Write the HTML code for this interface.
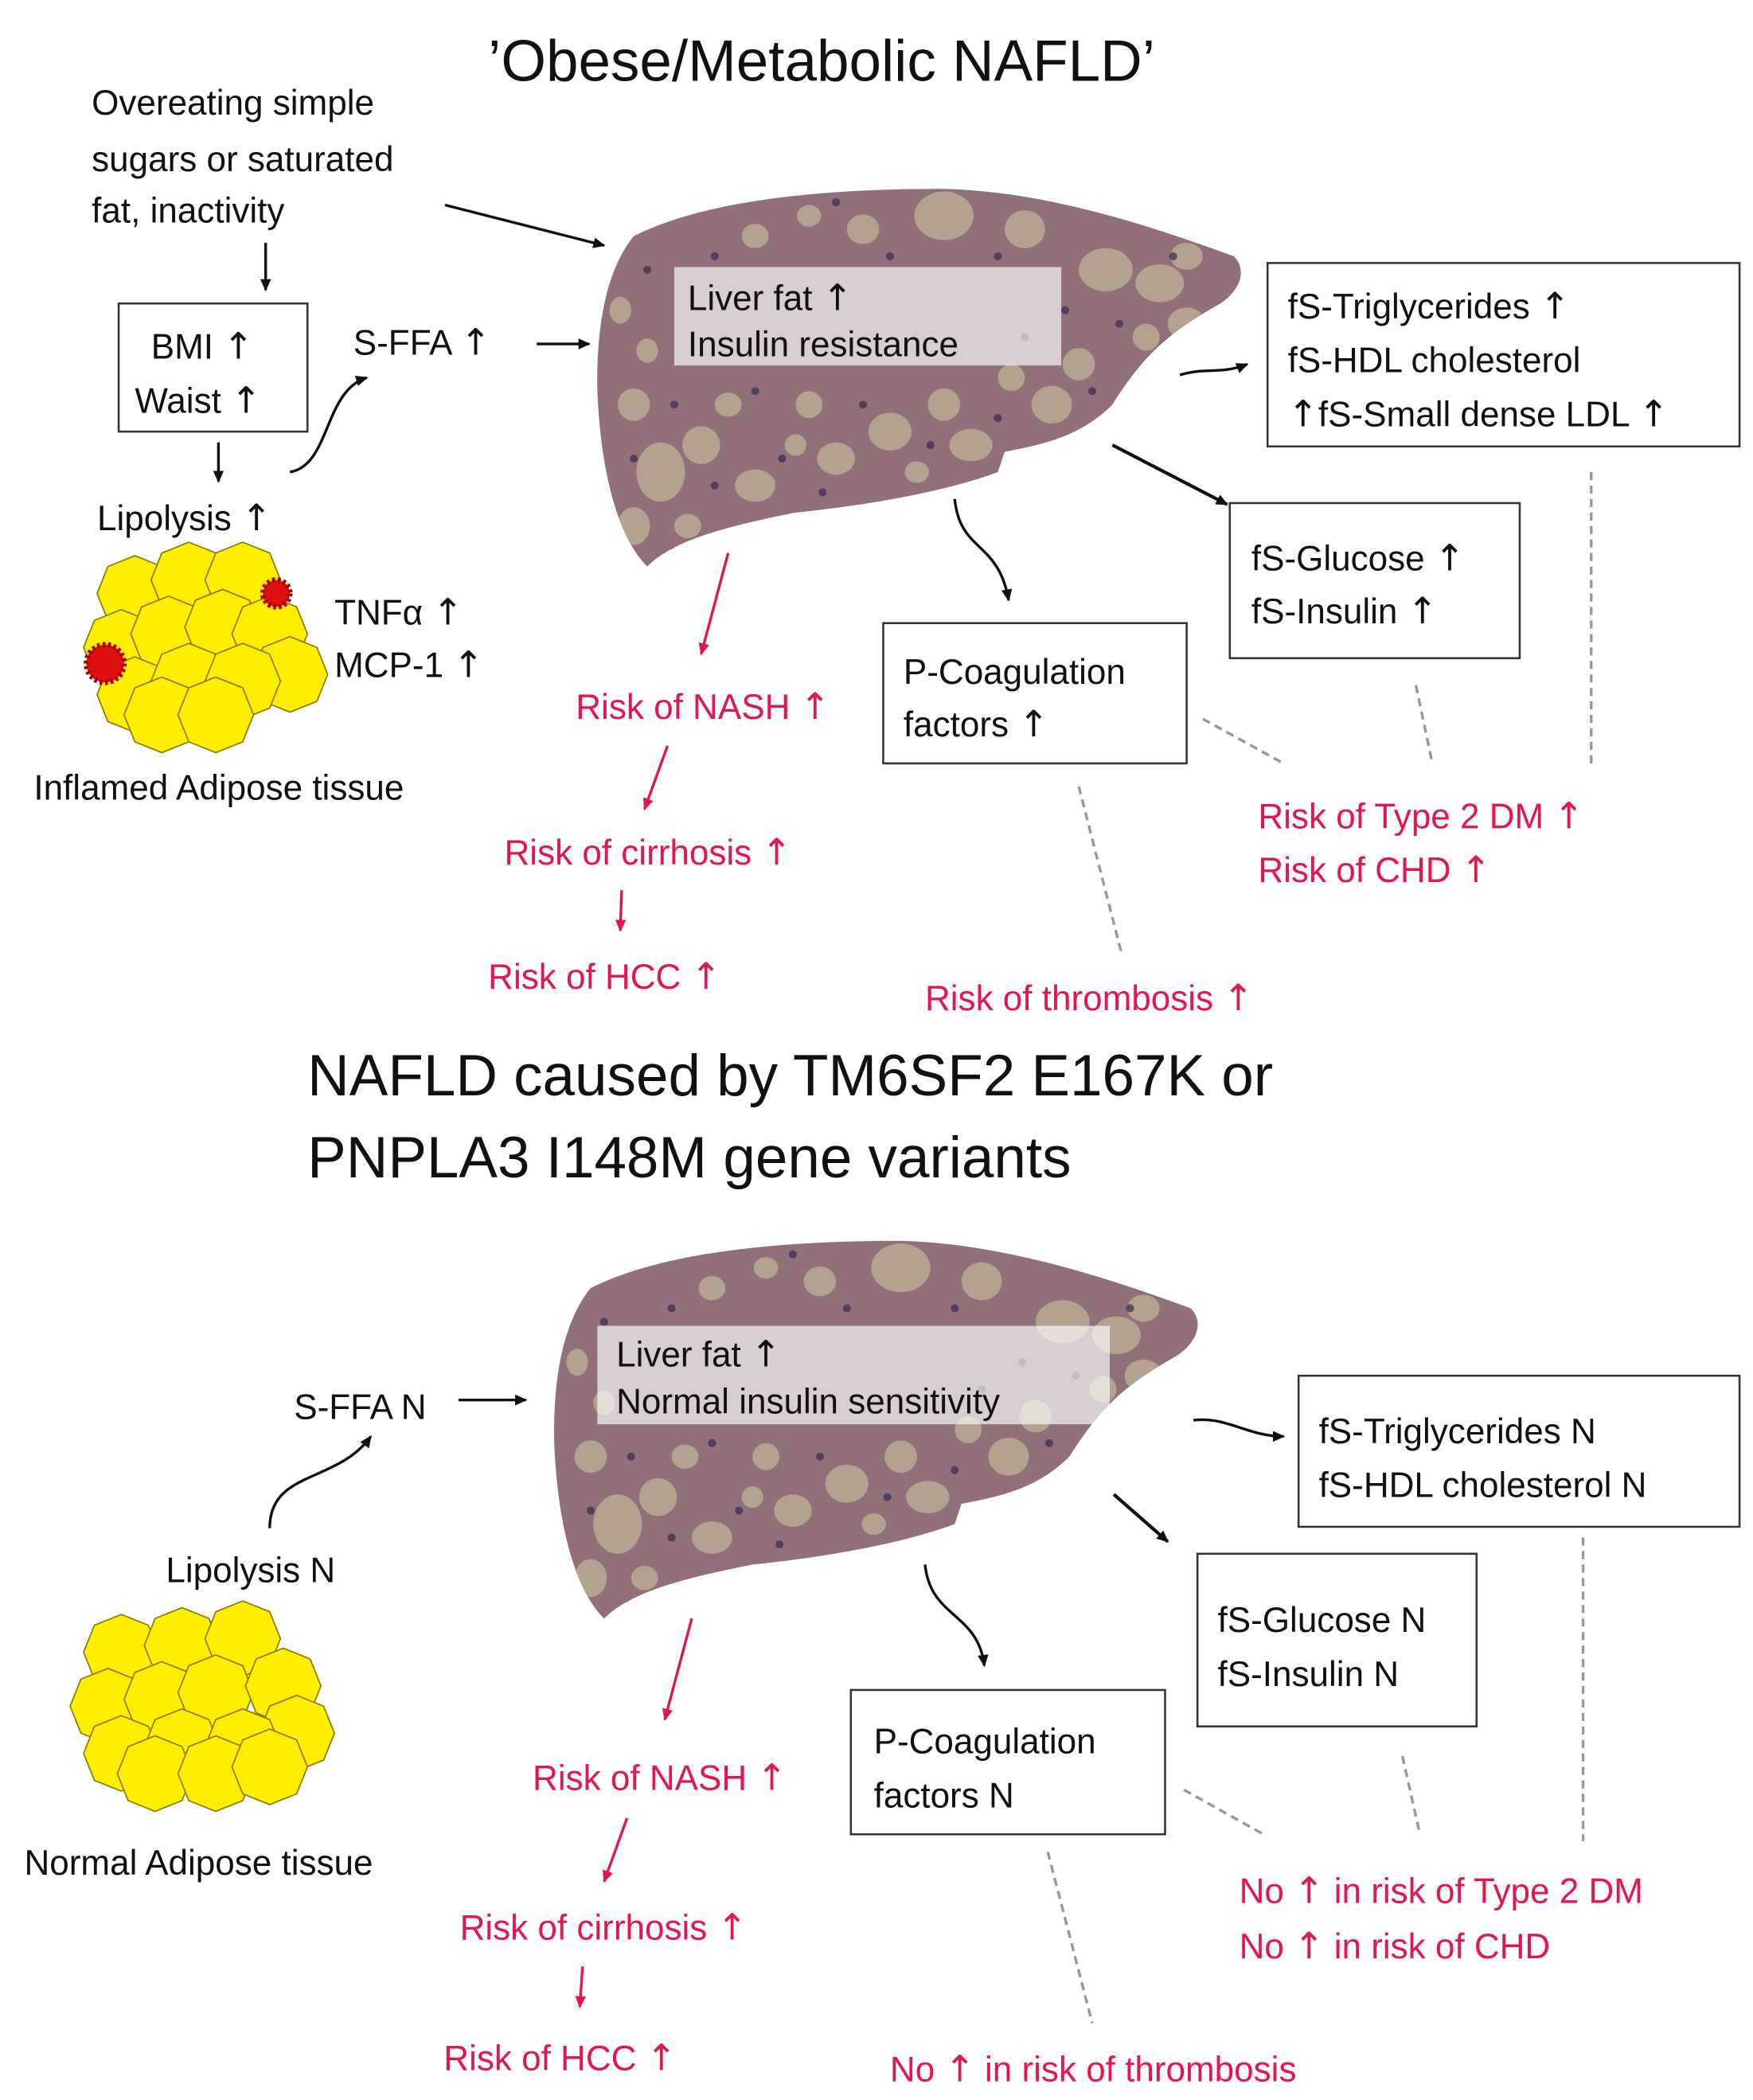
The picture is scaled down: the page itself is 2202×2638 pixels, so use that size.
<!DOCTYPE html>
<html><head><meta charset="utf-8"><style>
html,body{margin:0;padding:0;background:#fff;}
svg{display:block;}
text{font-family:"Liberation Sans",sans-serif;font-size:26px;fill:#111;}
.r{fill:#e3174f;}
.t{font-size:43px;}
.u{font-family:"DejaVu Sans",sans-serif;font-size:27px;}
</style></head><body>
<svg width="2202" height="2638" viewBox="0 0 1300 1557" preserveAspectRatio="none" xmlns="http://www.w3.org/2000/svg">
<defs>
<marker id="a" markerWidth="10" markerHeight="10" refX="8" refY="5" orient="auto" markerUnits="userSpaceOnUse"><path d="M0,1 L9,5 L0,9 z" fill="#111"/></marker>
<marker id="ar" markerWidth="10" markerHeight="10" refX="8" refY="5" orient="auto" markerUnits="userSpaceOnUse"><path d="M0,1 L9,5 L0,9 z" fill="#e3174f"/></marker>
<clipPath id="lc"><path d="M470,175 C520,150 600,140 700,140 C780,142 860,170 915,190 C925,200 920,215 905,225 C870,245 850,260 825,300 C800,325 770,330 745,335 L740,350 C700,365 640,375 590,380 C540,390 500,400 480,420 C455,395 445,340 443,290 C442,240 450,200 470,175 Z"/></clipPath>
<g id="liver">
<path d="M470,175 C520,150 600,140 700,140 C780,142 860,170 915,190 C925,200 920,215 905,225 C870,245 850,260 825,300 C800,325 770,330 745,335 L740,350 C700,365 640,375 590,380 C540,390 500,400 480,420 C455,395 445,340 443,290 C442,240 450,200 470,175 Z" fill="#91707a"/>
<g clip-path="url(#lc)" fill="#b3a28f">
<ellipse cx="700" cy="160" rx="22" ry="18"/><ellipse cx="760" cy="170" rx="15" ry="14"/><ellipse cx="820" cy="200" rx="20" ry="16"/><ellipse cx="860" cy="210" rx="18" ry="14"/><ellipse cx="640" cy="170" rx="12" ry="11"/><ellipse cx="560" cy="175" rx="10" ry="9"/><ellipse cx="600" cy="160" rx="9" ry="8"/><ellipse cx="880" cy="240" rx="14" ry="12"/><ellipse cx="850" cy="250" rx="10" ry="10"/>
<ellipse cx="490" cy="350" rx="18" ry="22"/><ellipse cx="470" cy="390" rx="12" ry="14"/><ellipse cx="520" cy="330" rx="14" ry="14"/><ellipse cx="560" cy="360" rx="15" ry="12"/><ellipse cx="620" cy="340" rx="14" ry="12"/><ellipse cx="660" cy="320" rx="16" ry="14"/><ellipse cx="700" cy="300" rx="12" ry="12"/><ellipse cx="720" cy="330" rx="16" ry="12"/><ellipse cx="780" cy="300" rx="15" ry="14"/><ellipse cx="800" cy="270" rx="12" ry="12"/><ellipse cx="750" cy="280" rx="10" ry="10"/><ellipse cx="600" cy="300" rx="10" ry="10"/><ellipse cx="470" cy="300" rx="12" ry="12"/><ellipse cx="460" cy="230" rx="8" ry="10"/><ellipse cx="880" cy="190" rx="12" ry="10"/><ellipse cx="540" cy="300" rx="10" ry="9"/><ellipse cx="510" cy="390" rx="10" ry="9"/><ellipse cx="590" cy="330" rx="8" ry="8"/><ellipse cx="680" cy="350" rx="9" ry="8"/><ellipse cx="480" cy="260" rx="8" ry="9"/>
</g>
<g clip-path="url(#lc)" fill="#3a2a55" opacity="0.7">
<circle cx="480" cy="200" r="3"/><circle cx="530" cy="190" r="3"/><circle cx="620" cy="150" r="3"/><circle cx="660" cy="190" r="3"/><circle cx="740" cy="190" r="3"/><circle cx="790" cy="230" r="3"/><circle cx="830" cy="240" r="3"/><circle cx="870" cy="190" r="3"/><circle cx="500" cy="300" r="3"/><circle cx="530" cy="360" r="3"/><circle cx="580" cy="340" r="3"/><circle cx="640" cy="300" r="3"/><circle cx="690" cy="330" r="3"/><circle cx="740" cy="310" r="3"/><circle cx="760" cy="250" r="3"/><circle cx="470" cy="340" r="3"/><circle cx="500" cy="410" r="4"/><circle cx="560" cy="290" r="3"/><circle cx="610" cy="365" r="3"/><circle cx="810" cy="290" r="3"/>
</g>
</g>
<polygon id="o" points="0,-28 20,-20 28,0 20,20 0,28 -20,20 -28,0 -20,-20" fill="#ffee00" stroke="#8a7a00" stroke-width="1"/>
</defs>

<!-- TOP -->
<text class="t" x="362" y="60">’Obese/Metabolic NAFLD’</text>
<text x="68" y="85">Overeating simple</text>
<text x="68" y="127">sugars or saturated</text>
<text x="68" y="165">fat, inactivity</text>
<line x1="330" y1="152" x2="448" y2="182" stroke="#111" stroke-width="2" marker-end="url(#a)"/>
<line x1="197" y1="180" x2="197" y2="215" stroke="#111" stroke-width="2" marker-end="url(#a)"/>
<rect x="88" y="225" width="140" height="95" fill="#fff" stroke="#333" stroke-width="1.5"/>
<text x="112" y="266">BMI <tspan class="u">↑</tspan></text><text x="100" y="306">Waist <tspan class="u">↑</tspan></text>
<line x1="162" y1="328" x2="162" y2="357" stroke="#111" stroke-width="2" marker-end="url(#a)"/>
<text x="72" y="393">Lipolysis <tspan class="u">↑</tspan></text>
<path d="M215,350 C245,345 240,290 272,280" fill="none" stroke="#111" stroke-width="2" marker-end="url(#a)"/>
<text x="262" y="263">S-FFA <tspan class="u">↑</tspan></text>
<line x1="398" y1="255" x2="437" y2="255" stroke="#111" stroke-width="2" marker-end="url(#a)"/>
<use href="#liver"/>
<rect x="500" y="198" width="287" height="73" fill="#fff" opacity="0.65"/>
<text x="510" y="230">Liver fat <tspan class="u">↑</tspan></text><text x="510" y="264">Insulin resistance</text>
<rect x="940" y="195" width="350" height="136" fill="#fff" stroke="#333" stroke-width="1.5"/>
<text x="955" y="236">fS-Triglycerides <tspan class="u">↑</tspan></text><text x="955" y="276">fS-HDL cholesterol</text><text x="955" y="316"><tspan class="u">↑</tspan>fS-Small dense LDL <tspan class="u">↑</tspan></text>
<path d="M875,278 C895,272 905,278 925,270" fill="none" stroke="#111" stroke-width="2" marker-end="url(#a)"/>
<line x1="825" y1="330" x2="910" y2="374" stroke="#111" stroke-width="2.5" marker-end="url(#a)"/>
<rect x="912" y="373" width="215" height="115" fill="#fff" stroke="#333" stroke-width="1.5"/>
<text x="928" y="423">fS-Glucose <tspan class="u">↑</tspan></text><text x="928" y="462">fS-Insulin <tspan class="u">↑</tspan></text>
<path d="M708,370 C712,410 740,400 748,445" fill="none" stroke="#111" stroke-width="2" marker-end="url(#a)"/>
<rect x="655" y="462" width="225" height="104" fill="#fff" stroke="#333" stroke-width="1.5"/>
<text x="670" y="507">P-Coagulation</text><text x="670" y="546">factors <tspan class="u">↑</tspan></text>
<g stroke="#e3174f" stroke-width="2">
<line x1="540" y1="410" x2="520" y2="485" marker-end="url(#ar)"/>
<line x1="495" y1="553" x2="478" y2="600" marker-end="url(#ar)"/>
<line x1="461" y1="660" x2="460" y2="690" marker-end="url(#ar)"/>
</g>
<text class="r" x="427" y="533">Risk of NASH <tspan class="u r">↑</tspan></text>
<text class="r" x="374" y="641">Risk of cirrhosis <tspan class="u r">↑</tspan></text>
<text class="r" x="362" y="733">Risk of HCC <tspan class="u r">↑</tspan></text>
<g stroke="#999" stroke-width="2" stroke-dasharray="6,4">
<line x1="892" y1="533" x2="950" y2="565"/><line x1="1050" y1="508" x2="1062" y2="565"/><line x1="1180" y1="350" x2="1180" y2="568"/><line x1="800" y1="583" x2="832" y2="708"/>
</g>
<text class="r" x="933" y="614">Risk of Type 2 DM <tspan class="u r">↑</tspan></text>
<text class="r" x="933" y="654">Risk of CHD <tspan class="u r">↑</tspan></text>
<text class="r" x="686" y="749">Risk of thrombosis <tspan class="u r">↑</tspan></text>
<g>
<use href="#o" x="100" y="440"/><use href="#o" x="140" y="430"/><use href="#o" x="180" y="430"/><use href="#o" x="90" y="480"/><use href="#o" x="125" y="470"/><use href="#o" x="165" y="465"/><use href="#o" x="200" y="470"/><use href="#o" x="215" y="500"/><use href="#o" x="100" y="515"/><use href="#o" x="140" y="505"/><use href="#o" x="180" y="505"/><use href="#o" x="120" y="530"/><use href="#o" x="160" y="530"/>
</g>
<circle cx="78" cy="492" r="14" fill="#e01010" stroke="#a00" stroke-width="4" stroke-dasharray="2,2"/>
<circle cx="205" cy="440" r="10" fill="#e01010" stroke="#a00" stroke-width="4" stroke-dasharray="2,2"/>
<text x="248" y="463">TNFα <tspan class="u">↑</tspan></text><text x="248" y="502">MCP-1 <tspan class="u">↑</tspan></text>
<text x="25" y="593">Inflamed Adipose tissue</text>

<!-- BOTTOM -->
<text class="t" x="228" y="812">NAFLD caused by TM6SF2 E167K or</text>
<text class="t" x="228" y="873">PNPLA3 I148M gene variants</text>
<use href="#liver" transform="translate(-32,780)"/>
<rect x="443" y="983" width="380" height="73" fill="#fff" opacity="0.65"/>
<text x="457" y="1013">Liver fat <tspan class="u">↑</tspan></text><text x="457" y="1048">Normal insulin sensitivity</text>
<text x="218" y="1052">S-FFA N</text>
<line x1="340" y1="1038" x2="390" y2="1038" stroke="#111" stroke-width="2" marker-end="url(#a)"/>
<path d="M200,1133 C200,1090 250,1100 275,1065" fill="none" stroke="#111" stroke-width="2" marker-end="url(#a)"/>
<text x="123" y="1173">Lipolysis N</text>
<g>
<use href="#o" x="90" y="1225"/><use href="#o" x="135" y="1220"/><use href="#o" x="180" y="1215"/><use href="#o" x="80" y="1265"/><use href="#o" x="120" y="1260"/><use href="#o" x="160" y="1255"/><use href="#o" x="210" y="1250"/><use href="#o" x="220" y="1285"/><use href="#o" x="90" y="1300"/><use href="#o" x="135" y="1295"/><use href="#o" x="180" y="1295"/><use href="#o" x="115" y="1315"/><use href="#o" x="160" y="1315"/><use href="#o" x="200" y="1310"/>
</g>
<text x="18" y="1390">Normal Adipose tissue</text>
<rect x="963" y="1020" width="327" height="112" fill="#fff" stroke="#333" stroke-width="1.5"/>
<text x="978" y="1070">fS-Triglycerides N</text><text x="978" y="1110">fS-HDL cholesterol  N</text>
<path d="M885,1053 C910,1050 925,1065 952,1065" fill="none" stroke="#111" stroke-width="2" marker-end="url(#a)"/>
<line x1="826" y1="1108" x2="866" y2="1143" stroke="#111" stroke-width="2.5" marker-end="url(#a)"/>
<rect x="888" y="1152" width="207" height="128" fill="#fff" stroke="#333" stroke-width="1.5"/>
<text x="903" y="1210">fS-Glucose N</text><text x="903" y="1250">fS-Insulin N</text>
<path d="M686,1160 C690,1200 725,1195 730,1235" fill="none" stroke="#111" stroke-width="2" marker-end="url(#a)"/>
<rect x="631" y="1253" width="233" height="107" fill="#fff" stroke="#333" stroke-width="1.5"/>
<text x="648" y="1300">P-Coagulation</text><text x="648" y="1340">factors N</text>
<g stroke="#e3174f" stroke-width="2">
<line x1="513" y1="1200" x2="493" y2="1275" marker-end="url(#ar)"/>
<line x1="465" y1="1348" x2="448" y2="1395" marker-end="url(#ar)"/>
<line x1="432" y1="1458" x2="430" y2="1488" marker-end="url(#ar)"/>
</g>
<text class="r" x="395" y="1327">Risk of NASH <tspan class="u r">↑</tspan></text>
<text class="r" x="341" y="1438">Risk of cirrhosis <tspan class="u r">↑</tspan></text>
<text class="r" x="329" y="1535">Risk of HCC <tspan class="u r">↑</tspan></text>
<g stroke="#999" stroke-width="2" stroke-dasharray="6,4">
<line x1="878" y1="1327" x2="937" y2="1360"/><line x1="1040" y1="1302" x2="1053" y2="1360"/><line x1="1174" y1="1140" x2="1174" y2="1365"/><line x1="777" y1="1373" x2="810" y2="1500"/>
</g>
<text class="r" x="919" y="1411">No <tspan class="u r">↑</tspan> in risk of Type 2 DM</text>
<text class="r" x="919" y="1452">No <tspan class="u r">↑</tspan> in risk of CHD</text>
<text class="r" x="660" y="1543">No <tspan class="u r">↑</tspan> in risk of thrombosis</text>
</svg>
</body></html>
